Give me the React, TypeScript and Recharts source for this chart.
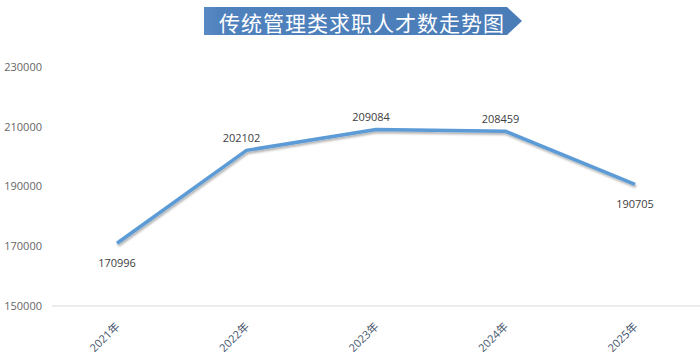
import React from "react";
import { LineChart, Line, XAxis, YAxis, LabelList } from "recharts";

const years = ["2021年", "2022年", "2023年", "2024年", "2025年"];
const seekers = [170996, 202102, 209084, 208459, 190705];
const yTicks = [150000, 170000, 190000, 210000, 230000];
const title = "传统管理类求职人才数走势图";

const data = years.map((year, i) => ({ year, value: seekers[i] }));

const FONT = "'Open Sans', 'Noto Sans CJK SC', sans-serif";

function YearTick({ x, y, payload }: { x?: number; y?: number; payload?: { value: string } }) {
  return (
    <text
      x={x}
      y={(y ?? 0) + 10}
      transform={`rotate(-45 ${x} ${(y ?? 0) + 10})`}
      textAnchor="end"
      dominantBaseline="central"
      fill="#44546A"
      fontSize={11}
      fontFamily={FONT}
    >
      {payload?.value}
    </text>
  );
}

/* first and last point carry their label under the line */
function ValueLabel(props: { x?: number; y?: number; value?: number; index?: number }) {
  const { x = 0, y = 0, value, index = 0 } = props;
  const below = index === 0 || index === seekers.length - 1;
  return (
    <text
      x={below ? x : x - 5}
      y={below ? y + 19 : y - 13}
      textAnchor="middle"
      dominantBaseline="central"
      fill="#404040"
      fontSize={11}
      fontFamily={FONT}
    >
      {value}
    </text>
  );
}

function TitleBanner() {
  return (
    <svg width={700} height={40} style={{ position: "absolute", left: 0, top: 0 }}>
      <defs>
        <linearGradient id="bannerFill" x1="0" x2="1" y1="0" y2="0">
          <stop offset="0" stopColor="#5A8AC6" />
          <stop offset="0.05" stopColor="#4F81BD" />
          <stop offset="1" stopColor="#4A7CB8" />
        </linearGradient>
      </defs>
      <polygon points="204,7 507,7 522,21 507,35 204,35" fill="url(#bannerFill)" />
      <text
        x={219}
        y={21.5}
        dominantBaseline="central"
        fill="#FFFFFF"
        fontSize={21}
        letterSpacing={1}
        fontFamily="'Noto Sans CJK SC', sans-serif"
      >
        {title}
      </text>
    </svg>
  );
}

export default function App() {
  return (
    <div style={{ position: "absolute", left: 0, top: 0, width: 700, height: 360, background: "#fff" }}>
      <LineChart width={700} height={360} data={data} margin={{ top: 67, right: 0, bottom: 0, left: 0 }}>
        <defs>
          <filter id="lineShadow" x="-10%" y="-10%" width="120%" height="130%">
            <feDropShadow dx="1" dy="2" stdDeviation="1.2" floodColor="#000" floodOpacity="0.3" />
          </filter>
        </defs>
        <XAxis
          dataKey="year"
          axisLine={{ stroke: "#D9D9D9" }}
          tickLine={false}
          height={54}
          interval={0}
          padding={{ left: 65, right: 65 }}
          tick={<YearTick />}
        />
        <YAxis
          domain={[150000, 230000]}
          ticks={yTicks}
          width={52}
          axisLine={false}
          tickLine={false}
          tickSize={0}
          tickMargin={10}
          tick={{ fill: "#666666", fontSize: 11, fontFamily: FONT }}
        />
        <Line
          dataKey="value"
          type="linear"
          stroke="#5B9BD5"
          strokeWidth={3.5}
          dot={false}
          activeDot={false}
          filter="url(#lineShadow)"
          isAnimationActive={false}
        >
          <LabelList dataKey="value" content={<ValueLabel />} />
        </Line>
      </LineChart>
      <TitleBanner />
    </div>
  );
}
